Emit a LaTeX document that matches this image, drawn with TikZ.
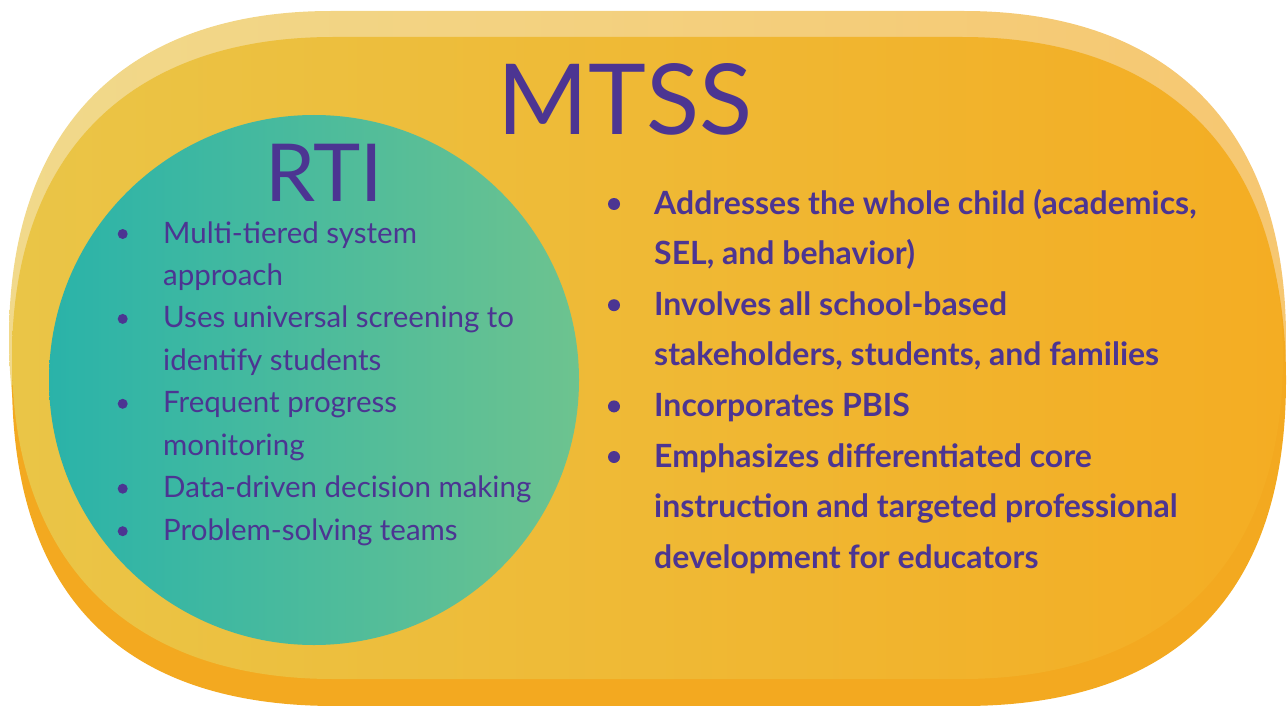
\documentclass[tikz,border=0pt]{standalone}
\usepackage{fontspec}
\setmainfont{Lato}
\definecolor{ink}{HTML}{4C3592}
\definecolor{paleL}{HTML}{F1D98B}
\definecolor{paleR}{HTML}{F6C771}
\definecolor{mainL}{HTML}{EAC547}
\definecolor{mainR}{HTML}{F4AD23}
\definecolor{deep}{HTML}{F3A920}
\definecolor{tealL}{HTML}{2AB3A9}
\definecolor{tealR}{HTML}{6DC38F}
\newcommand\roundshape[7]{%
 \pgfmathsetmacro\rsb{(#5-#4)/2}%
 \pgfmathsetmacro\rsM{(#4+#5)/2}%
 \pgfmathsetmacro\rsLa{#2+#6}%
 \pgfmathsetmacro\rsRa{#3-#6}%
 \pgfmathsetmacro\rsLk{#2+#6-#7*#6}%
 \pgfmathsetmacro\rsRk{#3-#6+#7*#6}%
 \pgfmathsetmacro\rsTk{\rsM-#7*\rsb}%
 \pgfmathsetmacro\rsBk{\rsM+#7*\rsb}%
 \path[#1] (\rsLa,#4) -- (\rsRa,#4) .. controls (\rsRk,#4) and (#3,\rsTk) .. (#3,\rsM)
   .. controls (#3,\rsBk) and (\rsRk,#5) .. (\rsRa,#5) -- (\rsLa,#5)
   .. controls (\rsLk,#5) and (#2,\rsBk) .. (#2,\rsM)
   .. controls (#2,\rsTk) and (\rsLk,#4) .. (\rsLa,#4) -- cycle;
}
\tikzset{
  lineL/.style={anchor=base west, inner sep=0pt, text=ink, font=\fontsize{29.5}{30}\selectfont},
  lineR/.style={anchor=base west, inner sep=0pt, text=ink, font=\fontsize{32}{32}\selectfont\bfseries},
  bigtitle/.style={anchor=base, inner sep=0pt, text=ink},
  dotL/.style={fill=ink},
}
\begin{document}
\begin{tikzpicture}[x=1pt,y=-1pt]
\useasboundingbox (0,0) rectangle (1287,706);
% layered stadium
\roundshape{left color=paleL, right color=paleR}{9}{1286}{11}{665}{322}{0.64}
\roundshape{fill=deep}{12}{1286}{54}{706}{323}{0.66}
\roundshape{left color=mainL, right color=mainR}{12}{1283}{37}{679}{321}{0.635}
% RTI circle
\path[left color=tealL, right color=tealR] (314,380) circle[radius=265];
% titles
\node[bigtitle, font=\fontsize{98}{98}\selectfont] (mtss) at (625,135) {MTSS};
\node[bigtitle, font=\fontsize{80}{80}\selectfont] (rti) at (324,201) {RTI};
% left list
\node[lineL] (l1) at (163,243) {Multi-tiered system};
\node[lineL] (l2) at (163,285.5) {approach};
\node[lineL] (l3) at (163,327.9) {Uses universal screening to};
\node[lineL] (l4) at (163,370.4) {identify students};
\node[lineL] (l5) at (163,412.8) {Frequent progress};
\node[lineL] (l6) at (163,455.3) {monitoring};
\node[lineL] (l7) at (163,497.7) {Data-driven decision making};
\node[lineL] (l8) at (163,540.2) {Problem-solving teams};
\foreach \yy in {234,318.9,403.8,488.7,531.2} \fill[dotL] (122.7,\yy) circle[radius=5];
% right list
\node[lineR] (r1) at (654,214) {Addresses the whole child (academics,};
\node[lineR] (r2) at (654,264.6) {SEL, and behavior)};
\node[lineR] (r3) at (654,315.2) {Involves all school-based};
\node[lineR] (r4) at (654,365.8) {stakeholders, students, and families};
\node[lineR] (r5) at (654,416.4) {Incorporates PBIS};
\node[lineR] (r6) at (654,467) {Emphasizes differentiated core};
\node[lineR] (r7) at (654,517.6) {instruction and targeted professional};
\node[lineR] (r8) at (654,568.2) {development for educators};
\foreach \yy in {204,305.2,406.4,457} \fill[dotL] (614,\yy) circle[radius=6];
\end{tikzpicture}
\end{document}
